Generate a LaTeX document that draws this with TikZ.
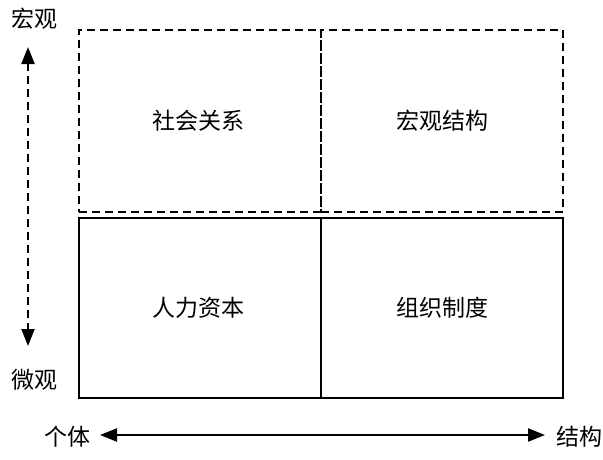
\documentclass[tikz,border=0pt]{standalone}
\usepackage{fontspec}
\newfontfamily\cjk{Noto Sans CJK SC}
\usetikzlibrary{arrows.meta}
\begin{document}
\begin{tikzpicture}[x=1pt,y=-1pt,
  lbl/.style={font=\cjk\fontsize{23}{23}\selectfont, inner sep=0pt},
  dashbox/.style={draw, line width=2pt, dash pattern=on 8pt off 5pt},
  solidbox/.style={draw, line width=2pt},
  axis/.style={line width=2.2pt, {Triangle[length=17pt,width=13pt]}-{Triangle[length=17pt,width=13pt]}}]
\useasboundingbox (0,0) rectangle (603,459);
% upper dashed boxes
\node[dashbox, minimum width=242pt, minimum height=182pt, inner sep=0pt] (sr) at (200,121) {};
\node[dashbox, minimum width=242pt, minimum height=182pt, inner sep=0pt] (hg) at (442,121) {};
% lower solid boxes
\node[solidbox, minimum width=242pt, minimum height=180pt, inner sep=0pt] (rl) at (200,308) {};
\node[solidbox, minimum width=242pt, minimum height=180pt, inner sep=0pt] (zz) at (442,308) {};
% labels
\node[lbl] (t1) at (198,121) {社会关系};
\node[lbl] (t2) at (442,121) {宏观结构};
\node[lbl] (t3) at (198,308) {人力资本};
\node[lbl] (t4) at (442,308) {组织制度};
\node[lbl] (macro) at (35,19) {宏观};
\node[lbl] (micro) at (35,380) {微观};
\node[lbl] (indiv) at (67,437) {个体};
\node[lbl, anchor=west] (struct) at (556,437) {结构};
% axes
\coordinate (vtop) at (28,47);
\coordinate (vbot) at (28,346);
\draw[axis, dash pattern=on 8pt off 5pt] (vtop) -- (vbot);
\coordinate (hl) at (100,435);
\coordinate (hr) at (545,435);
\draw[axis] (hl) -- (hr);
\end{tikzpicture}
\end{document}
